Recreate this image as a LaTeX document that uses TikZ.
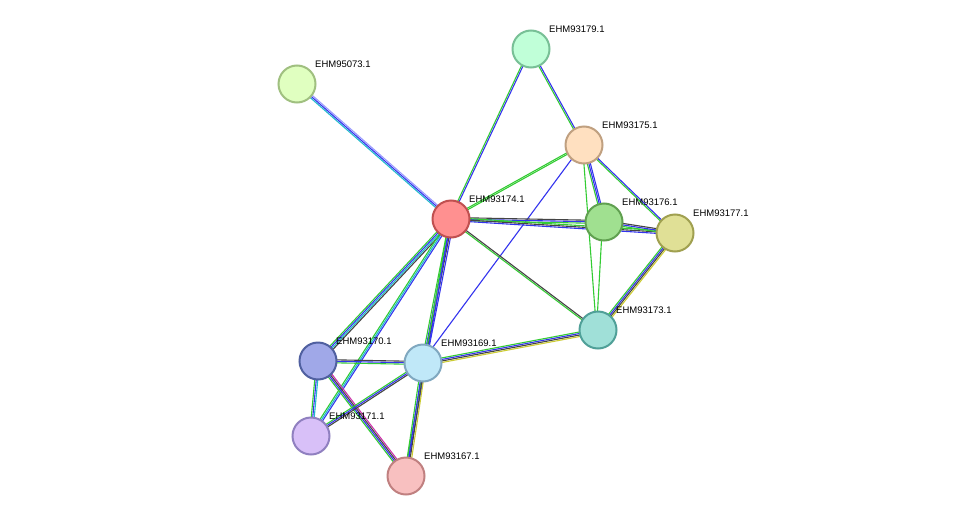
\documentclass[tikz,border=0pt]{standalone}
\usepackage{fontspec}
\setmainfont{Liberation Sans}
\usetikzlibrary{calc}
\definecolor{eg}{HTML}{33CC33}
\definecolor{eb}{HTML}{3333EE}
\definecolor{ek}{HTML}{444444}
\definecolor{ec}{HTML}{22BBCC}
\definecolor{ey}{HTML}{CCCC33}
\definecolor{ev}{HTML}{9999FF}
\definecolor{em}{HTML}{CC33AA}
\tikzset{
  prot/.style={circle,minimum size=37pt,inner sep=0pt,line width=2pt},
  lab/.style={font=\fontsize{9.5}{11}\selectfont,anchor=south west,inner sep=0pt},
  el/.style={line width=1.1pt}
}
\newcommand\Edge[3]{%
  \foreach \c [count=\i] in {#3} {%
    \draw[el,\c] ($(#1)!{(\i-2)*1.5pt}!90:(#2)$) -- ($(#2)!{(\i-2)*1.5pt}!-90:(#1)$);}}
\begin{document}
\begin{tikzpicture}[x=1pt,y=-1pt]
\useasboundingbox[fill=white] (0,0) rectangle (976,522);
\coordinate (p95073) at (297,84);
\coordinate (p93179) at (531,49);
\coordinate (p93175) at (584,145);
\coordinate (p93174) at (451,219);
\coordinate (p93176) at (604,222);
\coordinate (p93177) at (675,233);
\coordinate (p93173) at (598,330);
\coordinate (p93170) at (318,361);
\coordinate (p93169) at (423,363);
\coordinate (p93171) at (311,436);
\coordinate (p93167) at (406,476);
\Edge{p95073}{p93174}{ec,eb,ev}
\Edge{p93179}{p93174}{eg,eb}
\Edge{p93179}{p93175}{eg,eb}
\Edge{p93175}{p93174}{eg,eg}
\Edge{p93175}{p93176}{eg,eb,eb}
\Edge{p93175}{p93177}{eg,eb}
\Edge{p93175}{p93173}{eg}
\Edge{p93175}{p93169}{eb}
\Edge{p93174}{p93176}{eg,eb,ek}
\Edge{p93174}{p93177}{eb,ek,eg}
\Edge{p93174}{p93173}{eg,ek}
\Edge{p93174}{p93170}{eg,eb,ec,ek}
\Edge{p93174}{p93169}{eg,eb,ek,eb}
\Edge{p93174}{p93171}{eg,ec,eb}
\Edge{p93174}{p93167}{eg,eb}
\Edge{p93176}{p93177}{eg,eb,ek}
\Edge{p93176}{p93173}{eg}
\Edge{p93177}{p93173}{eg,eb,ek,ey}
\Edge{p93173}{p93169}{eg,eb,ek,ey}
\Edge{p93170}{p93169}{eg,eb,ek}
\Edge{p93170}{p93171}{eg,eb,ec}
\Edge{p93170}{p93167}{eg,eb,ek,em}
\Edge{p93169}{p93171}{eg,eb,ek}
\Edge{p93169}{p93167}{eg,eb,ek,ey}
\node[prot,fill={rgb,255:red,224;green,255;blue,192},draw={rgb,255:red,160;green,192;blue,128}] (n95073) at (p95073) {};
\node[prot,fill={rgb,255:red,192;green,255;blue,216},draw={rgb,255:red,120;green,192;blue,150}] (n93179) at (p93179) {};
\node[prot,fill={rgb,255:red,255;green,224;blue,192},draw={rgb,255:red,192;green,160;blue,128}] (n93175) at (p93175) {};
\node[prot,fill={rgb,255:red,255;green,144;blue,144},draw={rgb,255:red,192;green,80;blue,80}] (n93174) at (p93174) {};
\node[prot,fill={rgb,255:red,160;green,224;blue,144},draw={rgb,255:red,96;green,160;blue,80}] (n93176) at (p93176) {};
\node[prot,fill={rgb,255:red,224;green,224;blue,150},draw={rgb,255:red,160;green,160;blue,80}] (n93177) at (p93177) {};
\node[prot,fill={rgb,255:red,160;green,224;blue,216},draw={rgb,255:red,80;green,160;blue,152}] (n93173) at (p93173) {};
\node[prot,fill={rgb,255:red,160;green,168;blue,232},draw={rgb,255:red,80;green,96;blue,160}] (n93170) at (p93170) {};
\node[prot,fill={rgb,255:red,192;green,232;blue,248},draw={rgb,255:red,128;green,168;blue,192}] (n93169) at (p93169) {};
\node[prot,fill={rgb,255:red,216;green,192;blue,248},draw={rgb,255:red,144;green,128;blue,192}] (n93171) at (p93171) {};
\node[prot,fill={rgb,255:red,248;green,192;blue,192},draw={rgb,255:red,192;green,128;blue,128}] (n93167) at (p93167) {};
\node[lab] (l95073) at ($(p95073)+(18,-16)$) {EHM95073.1};
\node[lab] (l93179) at ($(p93179)+(18,-16)$) {EHM93179.1};
\node[lab] (l93175) at ($(p93175)+(18,-16)$) {EHM93175.1};
\node[lab] (l93174) at ($(p93174)+(18,-16)$) {EHM93174.1};
\node[lab] (l93176) at ($(p93176)+(18,-16)$) {EHM93176.1};
\node[lab] (l93177) at ($(p93177)+(18,-16)$) {EHM93177.1};
\node[lab] (l93173) at ($(p93173)+(18,-16)$) {EHM93173.1};
\node[lab] (l93170) at ($(p93170)+(18,-16)$) {EHM93170.1};
\node[lab] (l93169) at ($(p93169)+(18,-16)$) {EHM93169.1};
\node[lab] (l93171) at ($(p93171)+(18,-16)$) {EHM93171.1};
\node[lab] (l93167) at ($(p93167)+(18,-16)$) {EHM93167.1};
\end{tikzpicture}
\end{document}
